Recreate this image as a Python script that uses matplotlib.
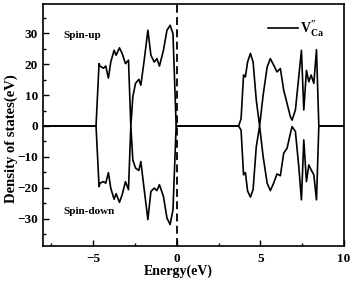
import matplotlib
matplotlib.use("Agg")
import matplotlib.pyplot as plt
from matplotlib.ticker import MultipleLocator

plt.rcParams['font.family'] = ['Liberation Serif', 'DejaVu Serif']
plt.rcParams['font.weight'] = 'bold'
plt.rcParams['mathtext.fontset'] = 'custom'
plt.rcParams['mathtext.rm'] = 'Liberation Serif'
plt.rcParams['mathtext.bf'] = 'Liberation Serif:bold'

# Valence band region
vb_energy = [-8.0, -4.83, -4.65, -4.59, -4.39, -4.25, -4.09, -3.95, -3.75, -3.63, -3.43,
             -3.27, -3.07, -2.89, -2.75, -2.63, -2.47, -2.27, -2.15, -1.95, -1.73,
             -1.55, -1.35, -1.19, -1.04, -0.80, -0.59, -0.40, -0.23, -0.04]
vb_up = [0, 0, 20.2, 19.4, 18.7, 19.4, 15.5, 20.7, 24.5, 22.9, 25.3,
         23.5, 20.2, 21.3, 0, 9.5, 13.8, 15.1, 13.2, 21.3, 31.0,
         22.9, 20.7, 21.8, 19.4, 24.5, 31.0, 32.6, 29.9, 0]
vb_down = [0, 0, -19.6, -18.5, -18.0, -18.5, -15.1, -20.1, -23.7, -21.9, -24.7,
           -22.3, -18.0, -20.6, 0, -11.0, -13.6, -14.4, -11.5, -20.6, -30.3,
           -21.2, -20.1, -20.9, -19.0, -22.8, -29.8, -31.9, -27.1, 0]

# Gap + conduction band region
cb_energy = [-0.04, 3.69, 3.84, 3.99, 4.10, 4.23, 4.40, 4.56, 4.75, 4.95, 5.16,
             5.40, 5.59, 5.79, 5.99, 6.19, 6.39, 6.59, 6.79, 6.89, 7.09,
             7.29, 7.45, 7.59, 7.75, 7.89, 8.03, 8.19, 8.35, 8.49, 10.0]
cb_up = [0, 0, 2.3, 16.5, 15.9, 20.7, 23.5, 20.7, 8.4, 0, 10.0,
         19.1, 21.8, 19.7, 17.5, 18.6, 11.6, 7.3, 3.0, 1.9, 5.2,
         15.9, 24.5, 5.2, 18.0, 14.3, 16.5, 13.8, 24.7, 0, 0]
cb_down = [0, 0, -1.3, -15.8, -15.1, -21.0, -23.0, -20.6, -6.7, 0, -9.9,
           -18.5, -20.9, -18.5, -15.5, -16.1, -8.8, -7.2, -2.4, -0.2, -1.8,
           -13.1, -23.9, -4.5, -18.0, -12.6, -14.2, -15.8, -23.9, 0, 0]

energy = vb_energy + cb_energy[1:]
dos_up = vb_up + cb_up[1:]
dos_down = vb_down + cb_down[1:]

fig = plt.figure(figsize=(3.54, 2.83), dpi=100)
ax = fig.add_axes([0.1215, 0.129, 0.8505, 0.857])

ax.plot(energy, dos_up, color='black', lw=1.2,
        label=r'$\mathbf{V}^{\prime\prime}_{\mathbf{Ca}}$')
ax.plot(energy, dos_down, color='black', lw=1.2)
ax.axvline(0, color='black', lw=1.3, ls=(0, (4.4, 2.4)))

ax.set_xlim(-8, 10)
ax.set_ylim(-39, 39.5)
ax.xaxis.set_major_locator(MultipleLocator(5))
ax.xaxis.set_minor_locator(MultipleLocator(2.5))
ax.yaxis.set_major_locator(MultipleLocator(10))
ax.yaxis.set_minor_locator(MultipleLocator(5))
ax.tick_params(which='both', direction='in', labelsize=9.5, width=1)
ax.tick_params(which='major', length=4)
ax.tick_params(which='minor', length=2)
ax.tick_params(axis='x', which='major', pad=5)
for s in ax.spines.values():
    s.set_linewidth(1.2)

ax.set_xlabel('Energy(eV)', fontsize=10, fontweight='bold')
ax.set_ylabel('Density of states(eV)', fontsize=10.5, fontweight='bold')
ax.xaxis.set_label_coords(0.449, -0.074)
ax.yaxis.set_label_coords(-0.083, 0.443)

ax.text(-6.75, 29.3, 'Spin-up', fontsize=8, fontweight='bold', va='center')
ax.text(-6.75, -27.8, 'Spin-down', fontsize=8, fontweight='bold', va='center')

ax.legend(loc='center left', bbox_to_anchor=(0.7485, 0.897), frameon=False,
          fontsize=10, handlelength=2.1, borderaxespad=0, borderpad=0,
          handletextpad=0.2)

fig.savefig('out.png', dpi=100)
